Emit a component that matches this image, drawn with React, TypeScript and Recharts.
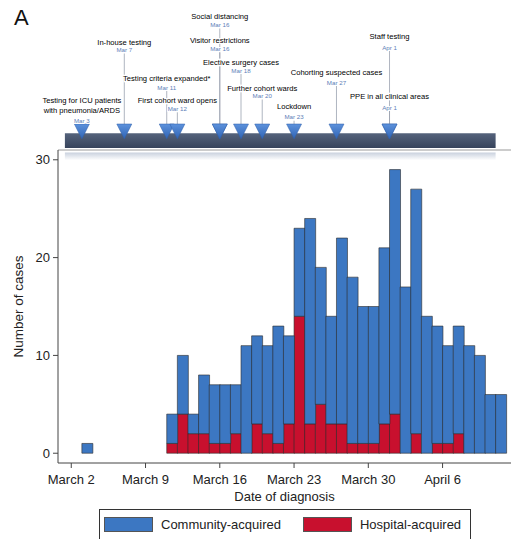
import React from "react";
import {
  BarChart,
  Bar,
  XAxis,
  YAxis,
  Legend,
  ReferenceArea,
  ReferenceLine,
  ReferenceDot,
} from "recharts";

// day of March for each bin (Apr 1 = 32)
const days = [
  2, 3, 4, 5, 6, 7, 8, 9, 10, 11, 12, 13, 14, 15, 16, 17, 18, 19, 20, 21, 22,
  23, 24, 25, 26, 27, 28, 29, 30, 31, 32, 33, 34, 35, 36, 37, 38, 39, 40, 41, 42,
];
const hospitalAcquired = [
  0, 0, 0, 0, 0, 0, 0, 0, 0, 1, 4, 2, 2, 1, 1, 2, 0, 3, 2, 1, 3,
  14, 3, 5, 3, 3, 1, 1, 1, 3, 4, 0, 2, 0, 1, 1, 2, 0, 0, 0, 0,
];
const communityAcquired = [
  0, 1, 0, 0, 0, 0, 0, 0, 0, 3, 6, 2, 6, 6, 6, 5, 11, 9, 9, 12, 9,
  9, 21, 14, 11, 19, 17, 14, 14, 18, 25, 17, 25, 14, 12, 10, 11, 11, 10, 6, 6,
];

const tickDays = [2, 9, 16, 23, 30, 37];
const tickLabels = ["March 2", "March 9", "March 16", "March 23", "March 30", "April 6"];
const yTicks = [0, 10, 20, 30];

// timeline of interventions
const eventNames = [
  "Testing for ICU patients\nwith pneumonia/ARDS",
  "In-house testing",
  "Testing criteria expanded*",
  "First cohort ward opens",
  "Social distancing",
  "Visitor restrictions",
  "Elective surgery cases",
  "Further cohort wards",
  "Lockdown",
  "Cohorting suspected cases",
  "Staff testing",
  "PPE in all clinical areas",
];
const eventDates = [
  "Mar 3", "Mar 7", "Mar 11", "Mar 12", "Mar 16", "Mar 16",
  "Mar 18", "Mar 20", "Mar 23", "Mar 27", "Apr 1", "Apr 1",
];
const eventDays = [3, 7, 11, 12, 16, 16, 18, 20, 23, 27, 32, 32];

// label placement (px from top), kept apart from the data
const titleY = [100, 42.5, 78.5, 100, 16, 40, 62.7, 88.3, 106.7, 72, 36, 96];
const dateY = [120, 49.5, 87, 108.3, 24.5, 48.7, 70, 95.5, 116.7, 82, 47, 107];

const series = [
  { key: "community", name: "Community-acquired", color: "#3c77c2" },
  { key: "hospital", name: "Hospital-acquired", color: "#c8102e" },
];

const data = days.map((d, i) => ({
  x: d + 0.5,
  hospital: hospitalAcquired[i],
  community: communityAcquired[i],
}));

const font = '"Liberation Sans", Arial, sans-serif';
const axisTick = { fontSize: 13, fill: "#222", fontFamily: font };

function EventMarker({ cx, cy, idx }: any) {
  const top = cy - 26;
  return (
    <g>
      {idx !== 0 && (
        <line x1={cx} x2={cx} y1={dateY[idx] + 4} y2={top + 2} stroke="#9aa2b0" strokeWidth={0.8} />
      )}
      <path
        d={`M${cx - 7.5},${top} L${cx + 7.5},${top} L${cx},${top + 15} Z`}
        fill="url(#triGrad)"
        stroke="#2f5ea8"
        strokeWidth={0.5}
      />
    </g>
  );
}

function EventLabel({ cx, idx }: any) {
  const lines = eventNames[idx].split("\n");
  return (
    <g fontFamily={font} textAnchor="middle">
      {lines.map((l, j) => (
        <text
          key={j}
          x={cx}
          y={titleY[idx] + j * 10}
          dominantBaseline="central"
          fontSize={7.6}
          fill="#000"
          stroke="#fff"
          strokeWidth={2.5}
          paintOrder="stroke"
        >
          {l}
        </text>
      ))}
      <text
        x={cx}
        y={dateY[idx]}
        dominantBaseline="central"
        fontSize={6.2}
        fill="#5d80b8"
        stroke="#fff"
        strokeWidth={2}
        paintOrder="stroke"
      >
        {eventDates[idx]}
      </text>
    </g>
  );
}

function LegendBox() {
  return (
    <div
      style={{
        marginLeft: 99,
        width: 372,
        height: 30,
        boxSizing: "border-box",
        border: "1px solid #333",
        borderBottom: "none",
        display: "flex",
        alignItems: "center",
        fontFamily: font,
        fontSize: 13,
        color: "#222",
      }}
    >
      {series.map((s, i) => (
        <div key={s.key} style={{ display: "flex", alignItems: "center", marginLeft: i === 0 ? 4 : 22 }}>
          <span
            style={{
              display: "inline-block",
              width: 49,
              height: 15,
              background: s.color,
              border: "1px solid #555",
              boxSizing: "border-box",
            }}
          />
          <span style={{ marginLeft: 8 }}>{s.name}</span>
        </div>
      ))}
    </div>
  );
}

export default function App() {
  return (
    <div
      style={{
        position: "absolute",
        left: 0,
        top: 0,
        width: 511,
        height: 539,
        background: "#fff",
        overflow: "hidden",
        fontFamily: font,
      }}
    >
      <div style={{ position: "absolute", left: 14, top: 5, fontSize: 22, color: "#111" }}>A</div>
      <BarChart
        width={511}
        height={539}
        data={data}
        margin={{ top: 150, right: 0, left: 0, bottom: 0 }}
        barCategoryGap={0}
        barGap={0}
      >
        <defs>
          <linearGradient id="bannerGrad" x1="0" y1="0" x2="0" y2="1">
            <stop offset="0%" stopColor="#55637c" />
            <stop offset="100%" stopColor="#36435b" />
          </linearGradient>
          <linearGradient id="shadowGrad" x1="0" y1="0" x2="0" y2="1">
            <stop offset="0%" stopColor="#c9d1de" />
            <stop offset="100%" stopColor="#ffffff" />
          </linearGradient>
          <linearGradient id="triGrad" x1="0" y1="0" x2="0" y2="1">
            <stop offset="0%" stopColor="#5d92dc" />
            <stop offset="100%" stopColor="#2f63b4" />
          </linearGradient>
        </defs>
        <XAxis
          dataKey="x"
          type="number"
          domain={[0.75, 43.45]}
          allowDataOverflow
          ticks={tickDays}
          tickFormatter={(v: number) => tickLabels[tickDays.indexOf(v)]}
          tick={axisTick}
          tickSize={5}
          tickMargin={7}
          height={46}
          stroke="#444"
          label={{ value: "Date of diagnosis", position: "insideBottom", offset: 8, fontSize: 13, fill: "#222", fontFamily: font }}
        />
        <YAxis
          type="number"
          domain={[-1, 31]}
          allowDataOverflow
          ticks={yTicks}
          tick={axisTick}
          tickSize={5}
          tickMargin={3}
          width={58}
          stroke="#444"
          label={{
            value: "Number of cases",
            angle: -90,
            position: "insideLeft",
            offset: 18,
            style: { textAnchor: "middle" },
            fontSize: 13.5,
            fill: "#222",
            fontFamily: font,
          }}
        />
        <ReferenceLine y={31} stroke="#999" strokeWidth={1} />
        <ReferenceArea x1={1.4} x2={42} y1={29.95} y2={30.75} ifOverflow="visible" fill="url(#shadowGrad)" fillOpacity={1} stroke="none" />
        <ReferenceArea x1={1.4} x2={42} y1={31.2} y2={32.72} ifOverflow="visible" fill="url(#bannerGrad)" fillOpacity={1} stroke="none" />
        <Bar dataKey="hospital" name="Hospital-acquired" stackId="a" fill="#c8102e" stroke="#2b2b2b" strokeWidth={0.6} isAnimationActive={false} />
        <Bar dataKey="community" name="Community-acquired" stackId="a" fill="#3c77c2" stroke="#2b2b2b" strokeWidth={0.6} isAnimationActive={false} />
        {eventDays.map((d, i) => (
          <ReferenceDot key={`m${i}`} x={d} y={31} r={0} ifOverflow="visible" shape={(p: any) => <EventMarker {...p} idx={i} />} />
        ))}
        {eventDays.map((d, i) => (
          <ReferenceDot key={`l${i}`} x={d} y={31} r={0} ifOverflow="visible" shape={(p: any) => <EventLabel {...p} idx={i} />} />
        ))}
        <Legend content={() => <LegendBox />} wrapperStyle={{ left: 0, bottom: 0, width: 511, height: 30 }} />
      </BarChart>
    </div>
  );
}
